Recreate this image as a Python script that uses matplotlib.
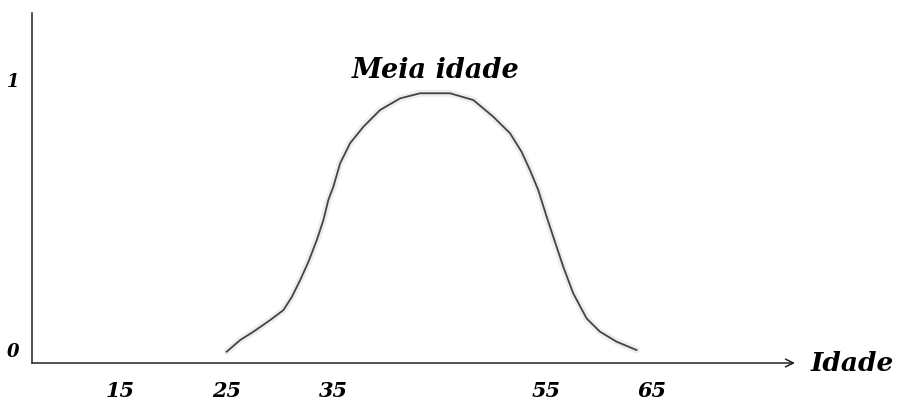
import matplotlib.pyplot as plt

# Data: membership curve "Meia idade" (age -> degree)
ages = [25.0, 26.26, 27.51, 29.08, 30.33, 31.12, 31.9, 32.68, 33.46, 34.08,
        34.55, 35.02, 35.65, 36.59, 37.84, 39.41, 41.29, 43.16, 45.98, 48.17,
        50.05, 51.62, 52.71, 53.49, 54.27, 55.06, 55.68, 56.62, 57.56, 58.82,
        60.07, 61.63, 63.51]
degree = [-0.006, 0.037, 0.068, 0.111, 0.148, 0.197, 0.259, 0.327, 0.407,
          0.481, 0.556, 0.605, 0.691, 0.766, 0.827, 0.889, 0.932, 0.951, 0.951,
          0.926, 0.864, 0.803, 0.734, 0.667, 0.593, 0.494, 0.42, 0.309, 0.21,
          0.117, 0.068, 0.031, 0.0]
x_ticks = [15, 25, 35, 55, 65]
y_ticks = [0, 1]
y_labels = ['0', '1']
curve_label = 'Meia idade'
x_name = 'Idade'

font = dict(family='DejaVu Serif', style='italic', weight='bold')

fig = plt.figure(figsize=(8.99, 4.05), dpi=100)
ax = fig.add_axes([0.0356, 0.1037, 0.8487, 0.864])

# faint halo then the thin curve
ax.plot(ages, degree, color='#eeeeee', lw=5, solid_capstyle='round',
        solid_joinstyle='round')
ax.plot(ages, degree, color='#444444', lw=1.3, solid_joinstyle='round')

ax.set_xlim(6.7, 78.4)
ax.set_ylim(-0.048, 1.248)

for s in ['top', 'right', 'bottom']:
    ax.spines[s].set_visible(False)
ax.spines['left'].set_color('#222222')
ax.spines['left'].set_linewidth(1.1)

# x axis drawn as an arrow
ax.annotate('', xy=(1.0, 0), xytext=(0, 0), xycoords='axes fraction',
            arrowprops=dict(arrowstyle='->', color='#222222', lw=1.1,
                            mutation_scale=14, shrinkA=0, shrinkB=0))
ax.text(1.02, 0, x_name, transform=ax.transAxes, ha='left', va='center',
        fontsize=19, **font)

ax.set_xticks(x_ticks)
ax.set_xticklabels([str(t) for t in x_ticks], fontsize=15, **font)
ax.set_yticks(y_ticks)
ax.set_yticklabels(y_labels, fontsize=13, **font)
ax.tick_params(axis='x', length=0, pad=13)
ax.tick_params(axis='y', length=0, pad=9)

ax.text(44.6, 1.035, curve_label, ha='center', va='center', fontsize=19.5, **font)

plt.savefig('out.png', dpi=100)
